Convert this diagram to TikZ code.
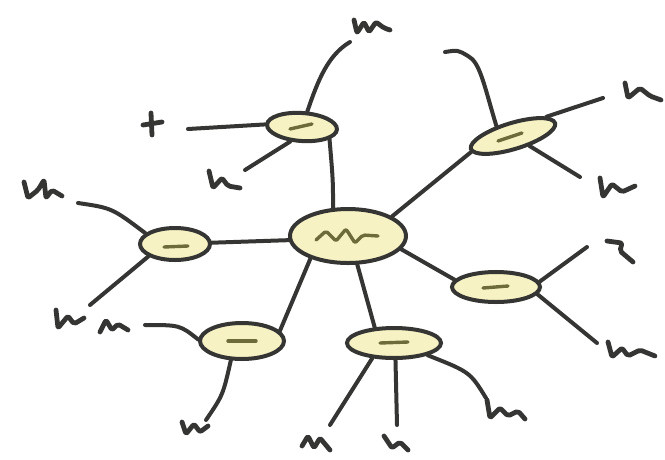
\documentclass[tikz,border=0pt]{standalone}
\usetikzlibrary{shapes.geometric}
\definecolor{ink}{HTML}{353533}
\definecolor{pale}{HTML}{F6F2C4}
\definecolor{olive}{HTML}{6E6B3A}
\begin{document}
\begin{tikzpicture}[x=1pt,y=-1pt,
  bub/.style={ellipse, draw=ink, fill=pale, line width=4pt, inner sep=0pt},
  link/.style={draw=ink, line width=4pt, line cap=round, line join=round},
  scrib/.style={draw=ink, line width=4.8pt, line cap=round, line join=round, rounded corners=2pt},
  core/.style={draw=olive, line width=3.4pt, line cap=round, line join=round, rounded corners=2pt}]
\useasboundingbox (0,0) rectangle (665,459);
% bubbles
\node[bub, minimum width=116pt, minimum height=54pt] (c) at (348,236) {};
\node[bub, minimum width=70pt, minimum height=28pt, rotate=-4] (tl) at (302,127) {};
\node[bub, minimum width=88pt, minimum height=26pt, rotate=17] (tr) at (513,136) {};
\node[bub, minimum width=70pt, minimum height=32pt] (l) at (175,244) {};
\node[bub, minimum width=84pt, minimum height=36pt] (bl) at (242,341) {};
\node[bub, minimum width=88pt, minimum height=30pt] (r) at (496,287) {};
\node[bub, minimum width=94pt, minimum height=30pt] (b) at (394,343) {};
% inner marks
\draw[core] (316,240) -- (326,231) -- (336,241) -- (346,229) -- (355,243) -- (363,235) -- (378,236);
\draw[core] (290,129) -- (312,124);
\draw[core] (498,141) -- (522,133);
\draw[core] (164,247) -- (188,246);
\draw[core] (228,341) -- (256,341);
\draw[core] (483,288) -- (508,286);
\draw[core] (380,343) -- (408,342);
% leaf end points
\coordinate (tlA) at (188,129);
\coordinate (tlB) at (245,170);
\coordinate (tlC) at (350,42);
\coordinate (trA) at (445,52);
\coordinate (trB) at (603,98);
\coordinate (trC) at (580,177);
\coordinate (lA) at (78,203);
\coordinate (lB) at (90,305);
\coordinate (blA) at (145,325);
\coordinate (blB) at (206,420);
\coordinate (bA) at (330,425);
\coordinate (bB) at (397,425);
\coordinate (bC) at (486,398);
\coordinate (rA) at (587,247);
\coordinate (rB) at (597,343);
% connectors from the centre
\draw[link] (c.118) .. controls (333,180) .. (tl.-20);
\draw[link] (c.184) -- (l.2);
\draw[link] (c.211) -- (bl.15);
\draw[link] (c.-72) -- (b.141);
\draw[link] (c.-14) -- (r.170);
\draw[link] (c.24) -- (tr.184);
% leaf connectors
\draw[link] (tl.west) -- (tlA);
\draw[link] (tl.235) -- (tlB);
\draw[link] (tl.75) .. controls (318,80) and (328,55) .. (tlC);
\draw[link] (tr.132) .. controls (484,85) and (480,62) .. (468,56) .. controls (458,50) .. (trA);
\draw[link] (tr.13) -- (trB);
\draw[link] (tr.-48) -- (trC);
\draw[link] (l.160) .. controls (112,208) .. (lA);
\draw[link] (l.205) -- (lB);
\draw[link] (bl.178) .. controls (180,325) .. (blA);
\draw[link] (bl.240) .. controls (223,395) .. (blB);
\draw[link] (b.215) -- (bA);
\draw[link] (b.-85) -- (bB);
\draw[link] (b.-20) .. controls (470,372) .. (bC);
\draw[link] (r.7) -- (rA);
\draw[link] (r.-10) -- (rB);
% scribbles
\draw[scrib] (354,20) -- (357,33) -- (364,22) -- (369,32) -- (376,22) -- (384,28) -- (390,30);
\draw[scrib] (151,113) -- (152,135);
\draw[scrib] (143,125) -- (162,122);
\draw[scrib] (209,171) -- (213,188) -- (222,178) -- (228,186) -- (240,188);
\draw[scrib] (625,83) -- (628,98) -- (640,88) -- (650,96) -- (661,100);
\draw[scrib] (600,178) -- (603,197) -- (612,184) -- (622,192) -- (635,186);
\draw[scrib] (607,241) -- (622,243) -- (620,251) -- (633,262);
\draw[scrib] (608,342) -- (612,357) -- (622,348) -- (628,356) -- (640,350) -- (655,356);
\draw[scrib] (487,400) -- (490,418) -- (500,408) -- (508,416) -- (518,411) -- (525,419);
\draw[scrib] (302,446) -- (308,436) -- (314,448) -- (320,438) -- (330,450);
\draw[scrib] (384,436) -- (392,448) -- (400,442) -- (408,450);
\draw[scrib] (182,422) -- (186,434) -- (194,424) -- (200,432) -- (208,426);
\draw[scrib] (100,332) -- (106,320) -- (112,330) -- (118,324) -- (128,330);
\draw[scrib] (56,310) -- (58,328) -- (68,316) -- (74,324) -- (84,318);
\draw[scrib] (24,182) -- (28,198) -- (38,190) -- (44,180) -- (46,198) -- (52,190) -- (62,196);
\end{tikzpicture}
\end{document}
